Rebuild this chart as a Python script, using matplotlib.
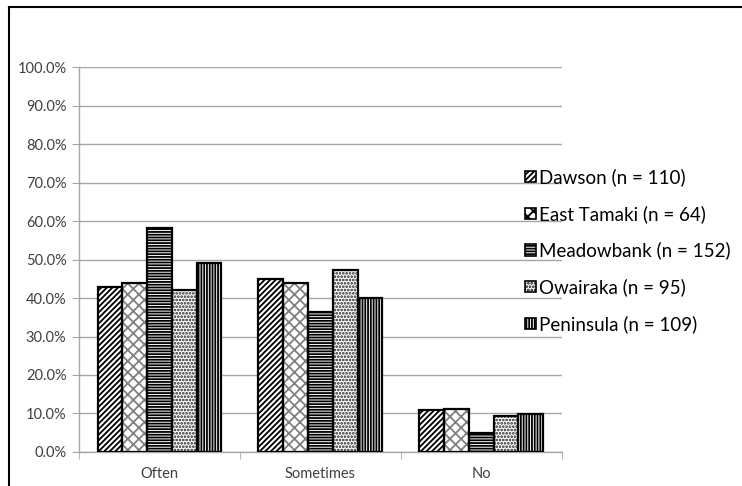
import matplotlib
matplotlib.use("Agg")
import matplotlib.pyplot as plt
import numpy as np
from matplotlib.patches import Patch
from matplotlib.lines import Line2D

categories = ["Often", "Sometimes", "No"]
series = ["Dawson (n = 110)", "East Tamaki (n = 64)", "Meadowbank (n = 152)",
          "Owairaka (n = 95)", "Peninsula (n = 109)"]
dawson = [42.9, 44.9, 10.9]
east_tamaki = [44.0, 43.8, 11.1]
meadowbank = [58.2, 36.3, 5.0]
owairaka = [42.1, 47.4, 9.4]
peninsula = [49.2, 39.9, 9.8]
values = [dawson, east_tamaki, meadowbank, owairaka, peninsula]
y_ticks = [0, 10, 20, 30, 40, 50, 60, 70, 80, 90, 100]

hatches = ["//////", "xxx", "------", ".....", "||||||"]
hatch_colors = ["black", "#808080", "black", "#202020", "black"]

plt.rcParams["font.family"] = ["Lato", "DejaVu Sans"]
plt.rcParams["hatch.linewidth"] = 1.3

fig = plt.figure(figsize=(7.42, 4.86), dpi=100)
ax = fig.add_axes([0.1065, 0.07, 0.6505, 0.792])

x = np.arange(len(categories))
group = 0.77
w = group / len(series)
for i, (vals, h, hc) in enumerate(zip(values, hatches, hatch_colors)):
    pos = x - group / 2 + w * (i + 0.5)
    ax.bar(pos, vals, w, color="white", edgecolor=hc, hatch=h, linewidth=0, zorder=2)
    ax.bar(pos, vals, w, fill=False, edgecolor="black", linewidth=1.6, zorder=3)

ax.set_xlim(-0.5, len(categories) - 0.5)
ax.set_ylim(0, 100)
ax.set_yticks(y_ticks)
ax.set_yticklabels([f"{v:.1f}%" for v in y_ticks])
ax.yaxis.grid(True, color="#a6a6a6", linewidth=1, zorder=0)
ax.set_axisbelow(True)

ax.set_xticks(x)
ax.set_xticklabels(categories)
ax.set_xticks(np.arange(len(categories) + 1) - 0.5, minor=True)
ax.tick_params(axis="x", which="major", length=0, labelsize=10.5, colors="#404040", pad=11)
ax.tick_params(axis="x", which="minor", length=5, color="#a6a6a6")
ax.tick_params(axis="y", length=5, color="#a6a6a6", labelsize=10.5, labelcolor="#404040", pad=4)

for s in ["top", "right"]:
    ax.spines[s].set_visible(False)
for s in ["left", "bottom"]:
    ax.spines[s].set_color("#a6a6a6")
    ax.spines[s].set_linewidth(1)

handles = [Patch(facecolor="white", edgecolor="black", hatch=h, linewidth=1.2) for h in hatches]
fig.legend(handles, series, loc="upper left", bbox_to_anchor=(0.698, 0.669),
           frameon=False, fontsize=13.5, handlelength=0.55, handleheight=0.55,
           handletextpad=0.2, labelspacing=1.0, borderaxespad=0)

# outer border
fig.add_artist(Line2D([0.012, 0.012], [0, 0.986], color="black", linewidth=1.5,
                      transform=fig.transFigure))
fig.add_artist(Line2D([0.012, 1.0], [0.986, 0.986], color="black", linewidth=1.5,
                      transform=fig.transFigure))

fig.savefig("out.png", dpi=100)
